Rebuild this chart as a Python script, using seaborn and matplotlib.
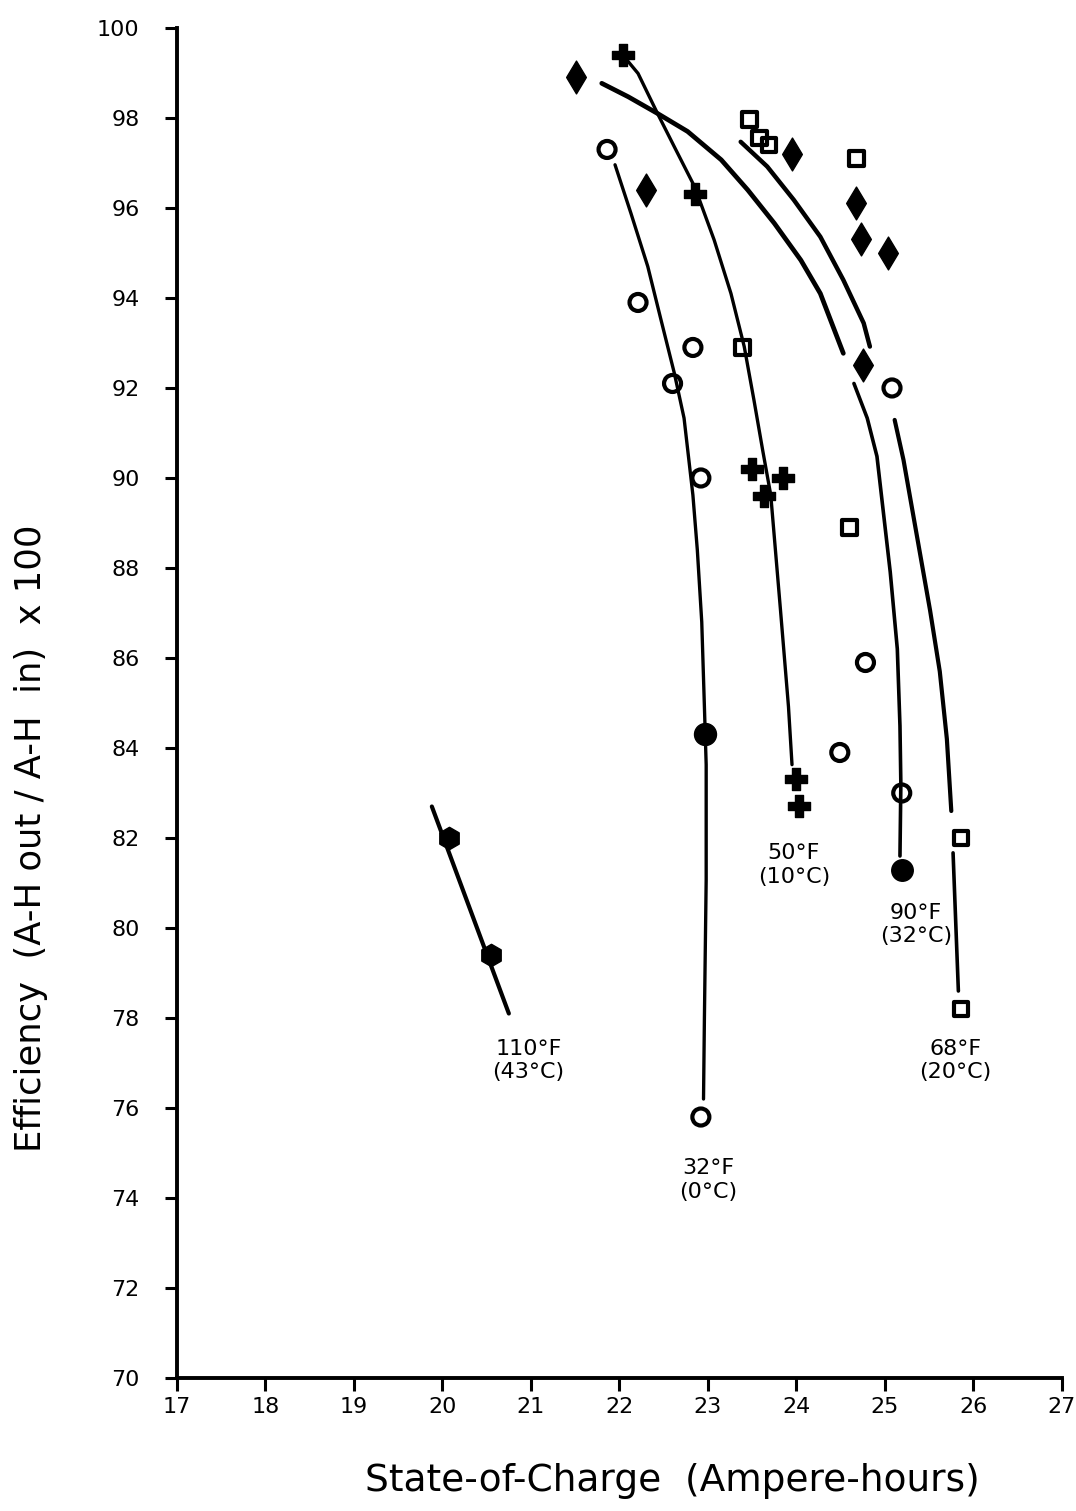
import numpy as np
import pandas as pd
import matplotlib
matplotlib.use("Agg")
import matplotlib.pyplot as plt
import seaborn as sns

# ---- data ----
# 32°F (0°C) open circles
c32_x = [21.86, 22.21, 22.83, 22.60, 22.92, 22.92]
c32_y = [97.3, 93.9, 92.9, 92.1, 90.0, 75.8]
# filled circle on 32°F curve
c32f_x = [22.97]
c32f_y = [84.3]
# 50°F (10°C) plus markers
p50_x = [22.04, 22.85, 23.50, 23.63, 23.85, 24.00, 24.03]
p50_y = [99.4, 96.3, 90.2, 89.6, 90.0, 83.3, 82.7]
# 68°F (20°C) open squares
s68_x = [23.47, 23.58, 23.69, 24.68, 23.39, 24.60, 25.86, 25.86]
s68_y = [97.96, 97.55, 97.4, 97.1, 92.9, 88.9, 82.0, 78.2]
# 90°F (32°C) flagged filled markers
d90_x = [21.51, 22.30, 23.95, 24.67, 24.73, 25.03, 24.75]
d90_y = [98.9, 96.4, 97.2, 96.1, 95.3, 95.0, 92.5]
# 90°F open circles
o90_x = [25.08, 24.78, 24.49, 25.19]
o90_y = [92.0, 85.9, 83.9, 83.0]
# 90°F filled circle
f90_x = [25.19]
f90_y = [81.3]
# 110°F (43°C) filled blobs
b110_x = [20.07, 20.55]
b110_y = [82.0, 79.4]

# fitted curves
curve32_x = [21.95, 22.13, 22.32, 22.47, 22.62, 22.73, 22.83, 22.88, 22.93,
             22.96, 22.98, 22.98, 22.96, 22.95]
curve32_y = [96.96, 95.88, 94.70, 93.51, 92.33, 91.33, 89.62, 88.4, 86.8,
             84.92, 83.63, 81.07, 77.99, 76.2]
curve50_x = [22.02, 22.21, 22.43, 22.62, 22.85, 23.07, 23.26, 23.41, 23.52,
             23.62, 23.71, 23.82, 23.91, 23.95]
curve50_y = [99.44, 98.99, 98.10, 97.36, 96.47, 95.29, 94.10, 92.92, 91.73,
             90.6, 89.62, 87.06, 84.92, 83.63]
curve90a_x = [21.80, 22.10, 22.43, 22.77, 23.15, 23.45, 23.75, 24.05, 24.27, 24.53]
curve90a_y = [98.77, 98.47, 98.10, 97.70, 97.07, 96.40, 95.66, 94.84, 94.10, 92.77]
curve90b_x = [24.65, 24.80, 24.91, 25.06, 25.14, 25.17, 25.18, 25.17]
curve90b_y = [92.10, 91.33, 90.48, 87.91, 86.20, 84.49, 83.20, 81.6]
curve68a_x = [23.37, 23.67, 23.97, 24.27, 24.53, 24.76, 24.83]
curve68a_y = [97.47, 96.92, 96.18, 95.36, 94.40, 93.44, 92.92]
curve68b_x = [25.11, 25.21, 25.28, 25.51, 25.62, 25.70, 25.75]
curve68b_y = [91.29, 90.40, 89.62, 87.06, 85.7, 84.2, 82.6]
curve68c_x = [25.77, 25.83]
curve68c_y = [81.67, 78.6]
curve110_x = [19.88, 20.75]
curve110_y = [82.7, 78.1]

x_ticks = list(range(17, 28))
y_ticks = list(range(70, 101, 2))

labels = [("110°F\n(43°C)", 20.97, 77.05),
          ("32°F\n(0°C)", 23.0, 74.4),
          ("50°F\n(10°C)", 23.97, 81.4),
          ("90°F\n(32°C)", 25.35, 80.07),
          ("68°F\n(20°C)", 25.8, 77.05)]

# ---- drawing ----
sns.set_theme(style="white")
plt.rcParams['font.family'] = ['DejaVu Sans']

fig = plt.figure(figsize=(10.76, 15.11), dpi=100)
ax = fig.add_axes([0.1645, 0.088, 0.8224, 0.8935])

curves = [(curve32_x, curve32_y, 2.4), (curve50_x, curve50_y, 2.4),
          (curve90a_x, curve90a_y, 3.4), (curve90b_x, curve90b_y, 2.6),
          (curve68a_x, curve68a_y, 3.2), (curve68b_x, curve68b_y, 3.0),
          (curve68c_x, curve68c_y, 2.6), (curve110_x, curve110_y, 3.0)]
for cx, cy, w in curves:
    sns.lineplot(x=cx, y=cy, sort=False, estimator=None, color="black",
                 linewidth=w, ax=ax)

def open_pts(x, y, marker, s):
    sns.scatterplot(x=x, y=y, marker=marker, s=s, facecolor="none",
                    edgecolor="black", linewidth=3, ax=ax, zorder=3, clip_on=False)

def filled_pts(x, y, marker, s):
    sns.scatterplot(x=x, y=y, marker=marker, s=s, color="black",
                    edgecolor="black", linewidth=1, ax=ax, zorder=3, clip_on=False)

open_pts(c32_x, c32_y, "o", 150)
filled_pts(c32f_x, c32f_y, "o", 250)
filled_pts(p50_x, p50_y, "P", 240)
open_pts(s68_x, s68_y, "s", 110)
filled_pts(d90_x, d90_y, "d", 280)
open_pts(o90_x, o90_y, "o", 150)
filled_pts(f90_x, f90_y, "o", 240)
filled_pts(b110_x, b110_y, "h", 260)

for txt, x, y in labels:
    ax.text(x, y, txt, ha="center", va="center", fontsize=16,
            color="black", linespacing=1.2)

ax.set_xlim(17, 27)
ax.set_ylim(70, 100)
ax.set_xticks(x_ticks)
ax.set_yticks(y_ticks)
ax.tick_params(axis="both", direction="out", length=9, width=2.2,
               labelsize=16, color="black", labelcolor="black",
               bottom=True, left=True)
ax.tick_params(axis="y", pad=18)
ax.tick_params(axis="x", pad=5)
for side in ["top", "right"]:
    ax.spines[side].set_visible(False)
for side in ["left", "bottom"]:
    ax.spines[side].set_linewidth(2.8)
    ax.spines[side].set_color("black")

ax.set_xlabel("State-of-Charge  (Ampere-hours)", fontsize=27, color="black")
ax.xaxis.set_label_coords(0.56, -0.063)
ax.set_ylabel("Efficiency  (A-H out / A-H  in)  x 100", fontsize=25.5, color="black")
ax.yaxis.set_label_coords(-0.146, 0.40)

fig.savefig("out.png", dpi=100, facecolor="white")
